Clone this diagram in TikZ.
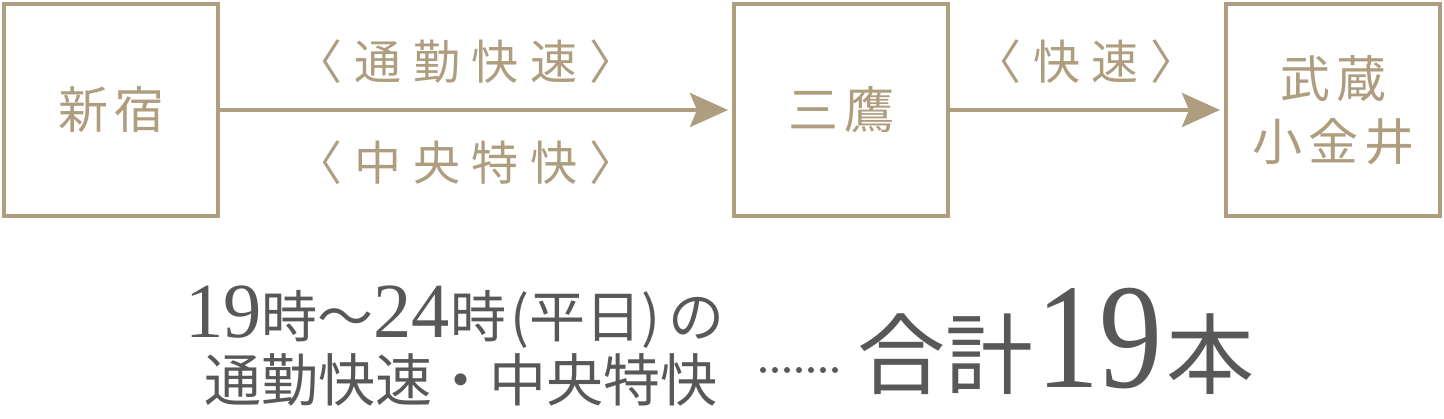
\documentclass[tikz,border=0pt]{standalone}
\usepackage{fontspec}
\setmainfont{Noto Sans CJK JP}
\newfontfamily\jp{Noto Sans CJK JP}
\newfontfamily\jpw[LetterSpace=12]{Noto Sans CJK JP}
\newfontfamily\jpr[LetterSpace=25]{Noto Sans CJK JP}
\newfontfamily\num{Liberation Serif}
\definecolor{gold}{HTML}{AE9D7E}
\definecolor{txt}{HTML}{585858}
\usetikzlibrary{arrows.meta}
\tikzset{
  station/.style={draw=gold, line width=4pt, minimum width=214pt, minimum height=212pt, inner sep=0pt},
  stlabel/.style={text=gold, font=\jpw\fontsize{50}{63}\selectfont, align=center},
  route/.style={text=gold, font=\jpr\fontsize{47}{47}\selectfont, inner sep=0pt},
  conn/.style={draw=gold, line width=4pt, -{Stealth[length=38pt,width=34pt,inset=7pt]}, shorten >=4pt},
  bottom/.style={text=txt, inner sep=0pt}
}
\newcommand{\bignum}[1]{{\num\fontsize{78}{78}\selectfont\scalebox{0.98}[1]{#1}}}
\begin{document}
\begin{tikzpicture}[x=1pt,y=-1pt]
\useasboundingbox (0,0) rectangle (1444,419);
\node[station] (a) at (111,110) {};
\node[station] (b) at (841,110) {};
\node[station] (c) at (1333,110) {};
\node[stlabel] at (a.center) {新宿};
\node[stlabel] at (b.center) {三鷹};
\node[stlabel] at (c.center) {武蔵\\小金井};
\draw[conn] (a.east) -- (b.west);
\draw[conn] (b.east) -- (c.west);
\node[route] (r1) at (466,62) {〈通勤快速〉};
\node[route] (r2) at (466,163) {〈中央特快〉};
\node[route] (r3) at (1086,62) {〈快速〉};
\node[bottom, font=\jp\fontsize{56}{56}\selectfont, anchor=base] (l1) at (455,338) {\bignum{19}時〜\bignum{24}時\hspace{5pt}(平日)\hspace{8pt}の};
\node[bottom, font=\jp\fontsize{57}{57}\selectfont, anchor=base] (l2) at (461,402) {通勤快速・中央特快};
\foreach \i in {0,...,6} \fill[txt] (763+\i*12,370) circle (3pt);
\node[bottom, font=\jp\fontsize{88}{88}\selectfont, anchor=base west] (tot) at (857,388) {合計\hspace{3pt}{\num\fontsize{150}{150}\selectfont\scalebox{0.84}[1]{19}}\hspace{4pt}本};
\end{tikzpicture}
\end{document}
